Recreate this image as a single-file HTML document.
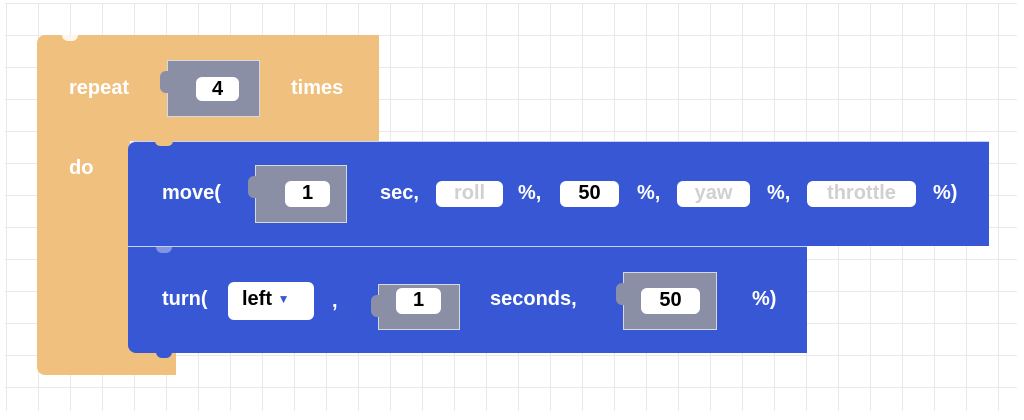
<!DOCTYPE html>
<html><head><style>
*{margin:0;padding:0;box-sizing:border-box}
body{width:1024px;height:420px;background:#fff;position:relative;overflow:hidden;font-family:"Liberation Sans",sans-serif;}
.grid{position:absolute;left:5px;top:3px;width:1012px;height:408px;
background-image:linear-gradient(#e9e9e9 1px,transparent 1px),linear-gradient(90deg,#e9e9e9 1px,transparent 1px);
background-size:32px 32px;background-position:1px 0,1px 0;}
.a{position:absolute}
.t{position:absolute;color:#fff;font-size:20px;font-weight:bold;line-height:20px;white-space:nowrap}
.f{position:absolute;background:#fff;border-radius:6px;text-align:center;font-size:20px;font-weight:bold;color:#000;line-height:25px}
.p{color:#d0d0d0}
.g{position:absolute;background:#8a8fa6;border:1px solid #d8d8e0}
.g::before{content:"";position:absolute;left:-8px;top:10px;width:9px;height:22px;background:#8a8fa6;border-radius:6px 0 0 6px}
</style></head><body>
<div class="grid"></div>
<div class="a" style="left:37px;top:35px;width:342px;height:106px;background:#f0c07f;border-radius:8px 0 0 0"></div>
<div class="a" style="left:37px;top:135px;width:93px;height:240px;background:#f0c07f;border-radius:0 0 0 8px"></div>
<div class="a" style="left:120px;top:345px;width:56px;height:30px;background:#f0c07f"></div>
<div class="a" style="left:62px;top:35px;width:16px;height:6px;background:#fff;border-radius:0 0 8px 8px;opacity:.85"></div>
<div class="t" style="left:69px;top:78px">repeat</div>
<div class="g" style="left:167px;top:60px;width:93px;height:57px"></div>
<div class="f" style="left:196px;top:77px;width:43px;height:24px">4</div>
<div class="t" style="left:291px;top:78px">times</div>
<div class="t" style="left:69px;top:158px">do</div>
<div class="a" style="left:128px;top:141px;width:861px;height:105px;background:#3857d4;border-radius:8px 0 0 0;border-top:1px solid #c9d2f5"></div>
<div class="a" style="left:155px;top:141px;width:18px;height:5px;background:#f0c07f;border-radius:0 0 9px 9px"></div>
<div class="t" style="left:162px;top:183px">move(</div>
<div class="g" style="left:255px;top:165px;width:92px;height:58px"></div>
<div class="f" style="left:285px;top:181px;width:45px;height:26px">1</div>
<div class="t" style="left:380px;top:183px">sec,</div>
<div class="f p" style="left:436px;top:181px;width:67px;height:26px">roll</div>
<div class="t" style="left:518px;top:183px">%,</div>
<div class="f" style="left:560px;top:181px;width:59px;height:26px">50</div>
<div class="t" style="left:637px;top:183px">%,</div>
<div class="f p" style="left:677px;top:181px;width:73px;height:26px">yaw</div>
<div class="t" style="left:767px;top:183px">%,</div>
<div class="f p" style="left:807px;top:181px;width:109px;height:26px">throttle</div>
<div class="t" style="left:933px;top:183px">%)</div>
<div class="a" style="left:128px;top:246px;width:679px;height:107px;background:#3857d4;border-top:1px solid #c9d2f5;border-radius:0 0 0 8px"></div>
<div class="a" style="left:156px;top:247px;width:16px;height:6px;background:#c9d2f5;border-radius:0 0 8px 8px;opacity:.5"></div>
<div class="a" style="left:156px;top:352px;width:16px;height:6px;background:#3857d4;border-radius:0 0 8px 8px"></div>
<div class="t" style="left:162px;top:289px">turn(</div>
<div class="f" style="left:228px;top:282px;width:86px;height:38px;line-height:34px;text-align:left;padding-left:14px">left <span style="color:#3857d4;font-size:12px;vertical-align:2px">&#9660;</span></div>
<div class="t" style="left:332px;top:291px">,</div>
<div class="g" style="left:378px;top:284px;width:82px;height:46px"></div>
<div class="f" style="left:396px;top:288px;width:45px;height:26px">1</div>
<div class="t" style="left:490px;top:289px">seconds,</div>
<div class="g" style="left:623px;top:272px;width:94px;height:58px"></div>
<div class="f" style="left:641px;top:288px;width:59px;height:26px">50</div>
<div class="t" style="left:752px;top:289px">%)</div>
</body></html>
